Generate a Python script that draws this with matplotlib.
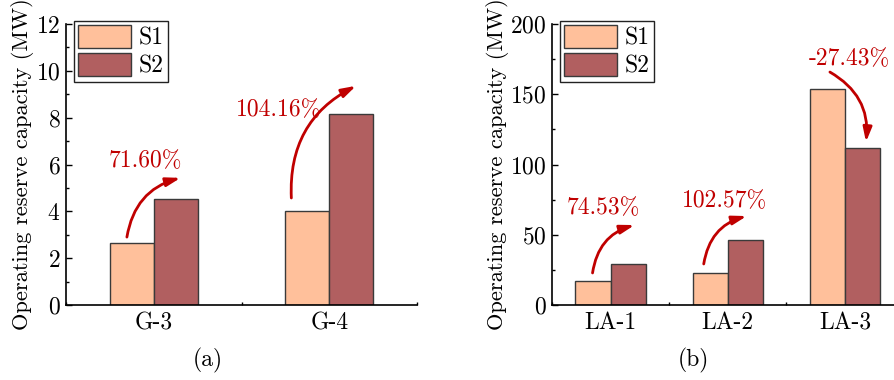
import matplotlib.pyplot as plt
import numpy as np

plt.rcParams["font.family"] = ["cmr10", "DejaVu Serif"]
plt.rcParams["mathtext.fontset"] = "cm"
plt.rcParams["axes.unicode_minus"] = False
plt.rcParams["axes.formatter.use_mathtext"] = True

SERIES = ["S1", "S2"]

# (a) generator units
GEN_UNITS = ["G-3", "G-4"]
GEN_S1 = [2.65, 4.0]
GEN_CHANGE = [71.60, 104.16]

# (b) load aggregators
LA_UNITS = ["LA-1", "LA-2", "LA-3"]
LA_S1 = [16.9, 22.8, 153.7]
LA_CHANGE = [74.53, 102.57, -27.43]

COLOR_S1 = "#FFC09B"
COLOR_S2 = "#B15F60"
EDGE = "#3a3a3a"
RED = "#C00000"
FS = 17


def s2_from_change(s1, change):
    return [a * (1 + c / 100) for a, c in zip(s1, change)]


def draw_panel(ax, units, s1, change, width, ymax, ystep, arrows, label_pos):
    s2 = s2_from_change(s1, change)
    x = np.arange(1, len(units) + 1)
    ax.bar(x - width / 2, s1, width, color=COLOR_S1, edgecolor=EDGE, linewidth=1.0, label=SERIES[0])
    ax.bar(x + width / 2, s2, width, color=COLOR_S2, edgecolor=EDGE, linewidth=1.0, label=SERIES[1])

    ax.set_xlim(0.5, len(units) + 0.5)
    ax.set_ylim(0, ymax)
    ax.set_xticks(x)
    ax.set_xticklabels(units)
    ax.set_xticks(np.arange(0.5, len(units) + 1), minor=True)
    ax.set_yticks(np.arange(0, ymax + ystep / 2, ystep))
    ax.set_yticks(np.arange(0, ymax, ystep / 2), minor=True)
    ax.tick_params(axis="both", which="major", direction="in", length=4, width=1, labelsize=FS)
    ax.tick_params(axis="x", which="major", length=0, pad=5)
    ax.tick_params(axis="y", which="major", pad=4)
    ax.tick_params(axis="both", which="minor", direction="in", length=2.5, width=1)
    ax.spines["top"].set_visible(False)
    ax.spines["right"].set_visible(False)
    ax.spines["left"].set_linewidth(1.2)
    ax.spines["bottom"].set_linewidth(1.2)
    ax.set_ylabel("Operating reserve capacity (MW)", fontsize=16.2, labelpad=1)

    for (start, end), (tx, ty), c in zip(arrows, label_pos, change):
        ax.annotate(
            "", xy=end, xytext=start,
            arrowprops=dict(arrowstyle="-|>,head_length=0.85,head_width=0.26",
                            connectionstyle="arc3,rad=-0.32",
                            color=RED, lw=2.0, shrinkA=0, shrinkB=0),
        )
        ax.text(tx, ty, f"{c:.2f}%", color=RED, fontsize=FS, ha="center", va="center")

    leg = ax.legend(loc="upper left", bbox_to_anchor=(0.022, 1.01), fontsize=FS,
                    handlelength=2.25, handleheight=1.1, handletextpad=0.3,
                    borderpad=0.18, labelspacing=0.15, fancybox=False, framealpha=1,
                    borderaxespad=0)
    leg.get_frame().set_edgecolor("#222222")
    leg.get_frame().set_linewidth(1.0)


fig = plt.figure(figsize=(8.94, 3.8), dpi=100)
ax_a = fig.add_axes([66 / 894, 75 / 380, 351 / 894, 281 / 380])
ax_b = fig.add_axes([552 / 894, 75 / 380, 351.5 / 894, 281 / 380])

draw_panel(
    ax_a, GEN_UNITS, GEN_S1, GEN_CHANGE, 0.25, 12, 2,
    arrows=[((0.847, 2.9), (1.153, 5.43)), ((1.784, 4.57), (2.153, 9.36))],
    label_pos=[(0.95, 6.15), (1.71, 8.33)],
)
draw_panel(
    ax_b, LA_UNITS, LA_S1, LA_CHANGE, 0.3, 200, 50,
    arrows=[((0.846, 22.8), (1.205, 56.9)), ((1.795, 29.2), (2.162, 63.3)),
            ((2.872, 165.8), (3.18, 116.0))],
    label_pos=[(0.94, 69), (1.974, 74), (3.034, 175)],
)

fig.text(208 / 894, 1 - 360 / 380, "(a)", fontsize=FS, ha="center", va="center")
fig.text(693 / 894, 1 - 360 / 380, "(b)", fontsize=FS, ha="center", va="center")

fig.savefig("out.png", dpi=100)
